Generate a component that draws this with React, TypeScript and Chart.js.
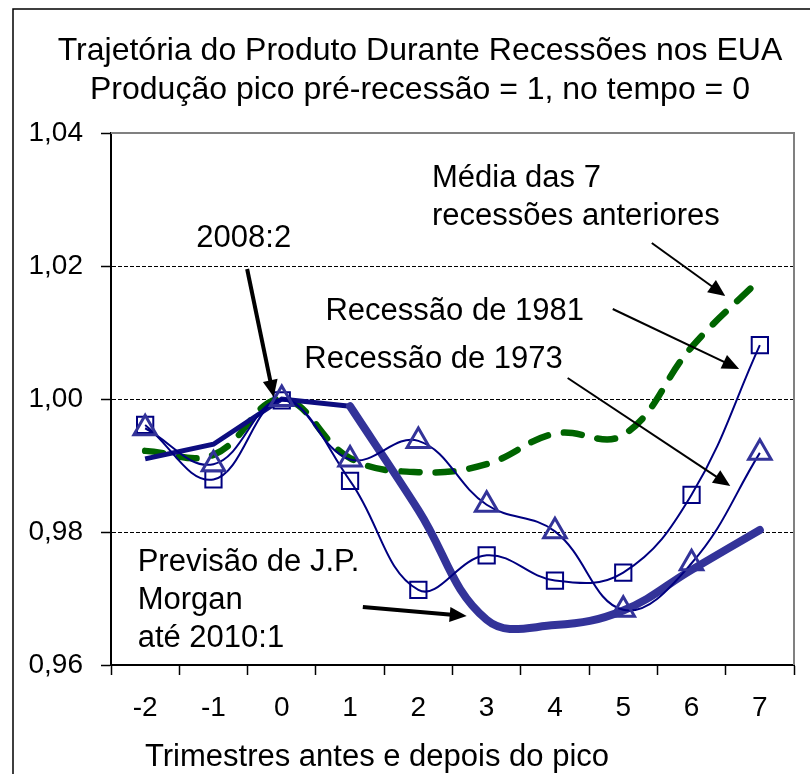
import React, { useEffect, useRef } from 'react';
import { Chart, registerables } from 'chart.js';

Chart.register(...registerables);

const CATEGORIES = ['-2', '-1', '0', '1', '2', '3', '4', '5', '6', '7'];
const MEDIA_7 = [0.9922, 0.9916, 1.0, 0.9911, 0.989, 0.9902, 0.9948, 0.9946, 1.0078, 1.018];
const REC_1981 = [0.9961, 0.9879, 0.9998, 0.9877, 0.9713, 0.9765, 0.9727, 0.9739, 0.9856, 1.0081];
const REC_1973 = [0.9956, 0.9902, 1.0, 0.9909, 0.9937, 0.9841, 0.9801, 0.9683, 0.9753, 0.9919];
const JPM_HIST = [0.991, 0.9932, 1.0, 0.9989, null, null, null, null, null, null];
const JPM_PREV = [null, null, null, 0.9989, 0.9833, 0.9668, 0.966, 0.9682, 0.9743, 0.9803];
const Y_TICKS = [0.96, 0.98, 1.0, 1.02, 1.04];
const Y_TICK_LABELS = ['0,96', '0,98', '1,00', '1,02', '1,04'];
const TITLE_LINES = [
  'Trajetória do Produto Durante Recessões nos EUA',
  'Produção pico pré-recessão = 1, no tempo = 0',
];
const X_TITLE = 'Trimestres antes e depois do pico';

// annotation anchors in data space (x = category index, y = value)
const NOTE_TEXTS = [
  ['Média das 7', 'recessões anteriores'],
  ['Recessão de 1981'],
  ['Recessão de 1973'],
  ['2008:2'],
  ['Previsão de J.P.', 'Morgan', 'até 2010:1'],
];
const NOTE_X = [4.2, 2.64, 2.33, 1.444, -0.11];
const NOTE_Y = [1.03188, 1.01188, 1.00466, 1.02286, 0.97414];
const NOTE_ALIGN = ['left', 'left', 'left', 'center', 'left'];

const ARROW_FROM = [
  [7.418, 1.02346],
  [6.846, 1.01353],
  [6.186, 1.00316],
  [1.493, 1.01955],
  [3.187, 0.96872],
];
const ARROW_TO = [
  [8.494, 1.01549],
  [8.697, 1.00451],
  [8.567, 0.98692],
  [1.882, 1.0003],
  [4.708, 0.96737],
];
const ARROW_W = [2, 2, 2, 4, 4];

const FONT = '"Liberation Sans", Arial, sans-serif';

function drawArrow(ctx: CanvasRenderingContext2D, x1: number, y1: number, x2: number, y2: number, w: number) {
  const headLen = 17;
  const headW = 15;
  const a = Math.atan2(y2 - y1, x2 - x1);
  const bx = x2 - headLen * Math.cos(a);
  const by = y2 - headLen * Math.sin(a);
  ctx.lineWidth = w;
  ctx.beginPath();
  ctx.moveTo(x1, y1);
  ctx.lineTo(bx + 2 * Math.cos(a), by + 2 * Math.sin(a));
  ctx.stroke();
  ctx.beginPath();
  ctx.moveTo(x2, y2);
  ctx.lineTo(bx + (headW / 2) * Math.sin(a), by - (headW / 2) * Math.cos(a));
  ctx.lineTo(bx - (headW / 2) * Math.sin(a), by + (headW / 2) * Math.cos(a));
  ctx.closePath();
  ctx.fill();
}

const decor = {
  id: 'decor',
  beforeDraw(chart: any) {
    const { ctx, width, height } = chart;
    ctx.save();
    ctx.fillStyle = '#ffffff';
    ctx.fillRect(0, 0, width, height);
    ctx.restore();
  },
  afterDraw(chart: any) {
    const { ctx, chartArea } = chart;
    const xs = chart.scales.x;
    const ys = chart.scales.y;
    ctx.save();
    // top and right plot border (gray)
    ctx.strokeStyle = '#808080';
    ctx.lineWidth = 2;
    ctx.beginPath();
    ctx.moveTo(chartArea.left, chartArea.top);
    ctx.lineTo(chartArea.right, chartArea.top);
    ctx.lineTo(chartArea.right, chartArea.bottom);
    ctx.stroke();
    // outer frame
    ctx.strokeStyle = '#000';
    ctx.lineWidth = 1.5;
    ctx.strokeRect(13, 9, 1000, 1000);
    // titles
    ctx.fillStyle = '#000';
    ctx.textBaseline = 'alphabetic';
    ctx.textAlign = 'center';
    ctx.font = `32px ${FONT}`;
    ctx.fillText(TITLE_LINES[0], 420, 60);
    ctx.fillText(TITLE_LINES[1], 420, 99);
    ctx.font = `31px ${FONT}`;
    ctx.fillText(X_TITLE, 377, 766);
    // notes
    NOTE_TEXTS.forEach((lines, i) => {
      const px = xs.getPixelForValue(NOTE_X[i]);
      const py = ys.getPixelForValue(NOTE_Y[i]);
      ctx.textAlign = NOTE_ALIGN[i];
      lines.forEach((t, j) => ctx.fillText(t, px, py + j * 38));
    });
    // arrows
    ctx.strokeStyle = '#000';
    ctx.fillStyle = '#000';
    ARROW_FROM.forEach((f, i) => {
      const t = ARROW_TO[i];
      drawArrow(
        ctx,
        xs.getPixelForValue(f[0]),
        ys.getPixelForValue(f[1]),
        xs.getPixelForValue(t[0]),
        ys.getPixelForValue(t[1]),
        ARROW_W[i]
      );
    });
    ctx.restore();
  },
};

export default function App() {
  const ref = useRef<HTMLCanvasElement>(null);
  useEffect(() => {
    const chart = new Chart(ref.current as HTMLCanvasElement, {
      type: 'line',
      data: {
        labels: CATEGORIES,
        datasets: [
          {
            label: 'Recessão de 1973',
            data: REC_1973,
            borderColor: '#000080',
            borderWidth: 2,
            tension: 0.4,
            pointStyle: 'triangle',
            pointRadius: 13,
            pointBorderColor: '#333399',
            pointBackgroundColor: 'rgba(0,0,0,0)',
            pointBorderWidth: 3,
          },
          {
            label: 'Recessão de 1981',
            data: REC_1981,
            borderColor: '#000080',
            borderWidth: 2,
            tension: 0.4,
            pointStyle: 'rect',
            pointRadius: 11.5,
            pointBorderColor: '#000080',
            pointBackgroundColor: 'rgba(0,0,0,0)',
            pointBorderWidth: 2,
          },
          {
            label: 'Previsão J.P. Morgan',
            data: JPM_PREV,
            borderColor: '#333399',
            borderWidth: 8,
            tension: 0.4,
            pointRadius: 0,
            borderCapStyle: 'round',
            borderJoinStyle: 'round',
          },
          {
            label: 'Histórico',
            data: JPM_HIST,
            borderColor: '#0d0d80',
            borderWidth: 5,
            tension: 0,
            pointRadius: 0,
          },
          {
            label: 'Média das 7 recessões anteriores',
            data: MEDIA_7,
            borderColor: '#006400',
            borderWidth: 6.5,
            borderDash: [18, 16],
            borderCapStyle: 'round',
            tension: 0.4,
            pointRadius: 0,
          },
        ],
      },
      options: {
        responsive: false,
        animation: false,
        devicePixelRatio: 1,
        layout: { padding: { top: 133, right: 2, left: 0, bottom: 0 } },
        plugins: {
          legend: { display: false },
          tooltip: { enabled: false },
          title: { display: false },
        },
        scales: {
          x: {
            type: 'category',
            offset: true,
            afterFit: (s: any) => {
              s.height = 109;
            },
            grid: {
              offset: true,
              drawOnChartArea: false,
              drawTicks: true,
              tickLength: 10,
              color: '#000',
              tickColor: '#000',
              tickWidth: 1.5,
            },
            border: { color: '#000', width: 2 },
            ticks: {
              color: '#000',
              font: { family: FONT, size: 28 },
              padding: 16,
              maxRotation: 0,
              autoSkip: false,
            },
          },
          y: {
            type: 'linear',
            min: 0.96,
            max: 1.04,
            afterFit: (s: any) => {
              s.width = 111;
            },
            afterBuildTicks: (s: any) => {
              s.ticks = Y_TICKS.map((v) => ({ value: v }));
            },
            grid: {
              drawTicks: true,
              tickLength: 10,
              color: (c: any) =>
                c.index === 0 || c.index === Y_TICKS.length - 1 ? 'rgba(0,0,0,0)' : '#000',
              lineWidth: 1,
              tickColor: '#000',
              tickWidth: 1.5,
              tickBorderDash: [],
            },
            border: { color: '#000', width: 2, dash: [4, 2] },
            ticks: {
              color: '#000',
              font: { family: FONT, size: 28 },
              padding: 18,
              callback: (_v: any, i: number) => Y_TICK_LABELS[i],
            },
          },
        },
      },
      plugins: [decor],
    });
    return () => chart.destroy();
  }, []);
  return (
    <div style={{ position: 'fixed', left: 0, top: 0, width: 810, height: 774, background: '#fff' }}>
      <canvas ref={ref} width={810} height={774} style={{ display: 'block', width: 810, height: 774 }} />
    </div>
  );
}
